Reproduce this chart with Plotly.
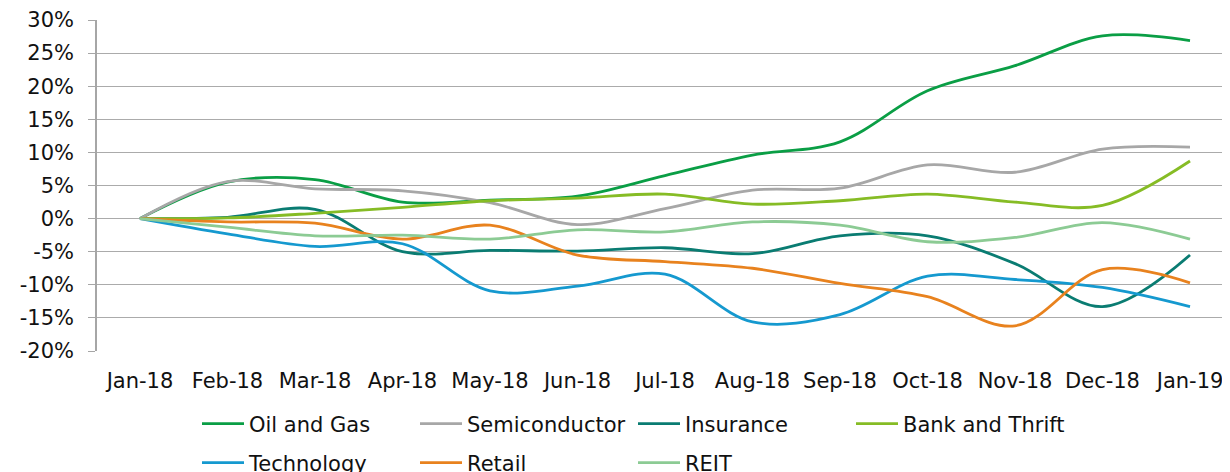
import plotly.graph_objects as go

months = ["Jan-18", "Feb-18", "Mar-18", "Apr-18", "May-18", "Jun-18", "Jul-18",
          "Aug-18", "Sep-18", "Oct-18", "Nov-18", "Dec-18", "Jan-19"]

oil_and_gas = [0, 5.5, 5.9, 2.5, 2.8, 3.4, 6.5, 9.6, 11.6, 19.3, 23.1, 27.6, 26.9]
semiconductor = [0, 5.6, 4.5, 4.2, 2.4, -0.9, 1.5, 4.3, 4.6, 8.1, 7.0, 10.5, 10.8]
insurance = [0, 0.2, 1.4, -5.0, -4.8, -4.9, -4.4, -5.3, -2.6, -2.6, -6.8, -13.3, -5.5]
bank_and_thrift = [0, 0.1, 0.8, 1.7, 2.7, 3.1, 3.7, 2.2, 2.7, 3.7, 2.5, 2.0, 8.7]
technology = [0, -2.3, -4.2, -3.8, -10.9, -10.2, -8.4, -15.6, -14.5, -8.7, -9.2, -10.4, -13.3]
retail = [0, -0.5, -0.7, -3.1, -1.0, -5.5, -6.5, -7.5, -9.8, -11.8, -16.2, -7.7, -9.7]
reit = [0, -1.3, -2.6, -2.5, -3.1, -1.7, -2.0, -0.5, -1.0, -3.5, -2.85, -0.6, -3.1]

y_ticks = [-20, -15, -10, -5, 0, 5, 10, 15, 20, 25, 30]
y_tick_text = ["-20%", "-15%", "-10%", "-5%", "0%", "5%", "10%", "15%", "20%", "25%", "30%"]

series = [
    ("Oil and Gas", oil_and_gas, "#0a9e45", "legend"),
    ("Semiconductor", semiconductor, "#a7a7a7", "legend"),
    ("Insurance", insurance, "#0a7c72", "legend"),
    ("Bank and Thrift", bank_and_thrift, "#86bc25", "legend"),
    ("Technology", technology, "#1599cf", "legend2"),
    ("Retail", retail, "#e8821e", "legend2"),
    ("REIT", reit, "#8ccb94", "legend2"),
]

FONT = "DejaVu Sans"
FS = 21
TXT = "#111111"
GRID = "#ababab"
W, H = 1222, 464  # page body keeps an 8px margin

fig = go.Figure()
for name, vals, color, leg in series:
    fig.add_trace(go.Scatter(
        x=months, y=vals, name=name, mode="lines",
        line=dict(color=color, width=2.8, shape="spline", smoothing=1.0),
        legend=leg, hoverinfo="x+y+name",
    ))

xr = [-0.491, 12.457]
boundaries = [i + 0.5 for i in range(len(months) - 1)]

legend_common = dict(
    orientation="h", xref="container", yref="container",
    xanchor="left", yanchor="middle",
    entrywidth=161, entrywidthmode="pixels", itemwidth=42,
    font=dict(family=FONT, size=FS, color=TXT),
    bgcolor="rgba(0,0,0,0)", borderwidth=0,
    traceorder="normal",
)

fig.update_layout(
    width=W, height=H,
    margin=dict(l=89, r=0, t=12, b=121, autoexpand=False),
    paper_bgcolor="white", plot_bgcolor="white",
    font=dict(family=FONT, size=FS, color=TXT),
    showlegend=True,
    legend=dict(legend_common, x=189 / W, y=1 - 416 / H),
    legend2=dict(legend_common, x=189 / W, y=1 - 455 / H),
    xaxis=dict(
        type="category", range=xr, showline=False, showgrid=False,
        zeroline=False, ticks="", tickfont=dict(family=FONT, size=FS, color=TXT),
        ticklabelstandoff=15, automargin=False,
    ),
    xaxis2=dict(
        overlaying="x", anchor="free", position=0.4, type="linear", range=xr,
        showline=True, linecolor=GRID, linewidth=1.3,
        ticks="outside", ticklen=6, tickcolor=GRID, tickwidth=1.3,
        tickvals=boundaries, showticklabels=False, showgrid=False, zeroline=False,
        automargin=False,
    ),
    yaxis=dict(
        range=[-20, 30], tickvals=y_ticks, ticktext=y_tick_text,
        showgrid=True, gridcolor=GRID, gridwidth=1.3,
        zeroline=False, showline=True, linecolor="#a6a6a6", linewidth=1.5,
        ticks="outside", ticklen=7, tickcolor="#a6a6a6", tickwidth=1.3,
        tickfont=dict(family=FONT, size=FS, color=TXT),
        ticklabelstandoff=10, automargin=False,
    ),
)

fig.write_html("out.html")
